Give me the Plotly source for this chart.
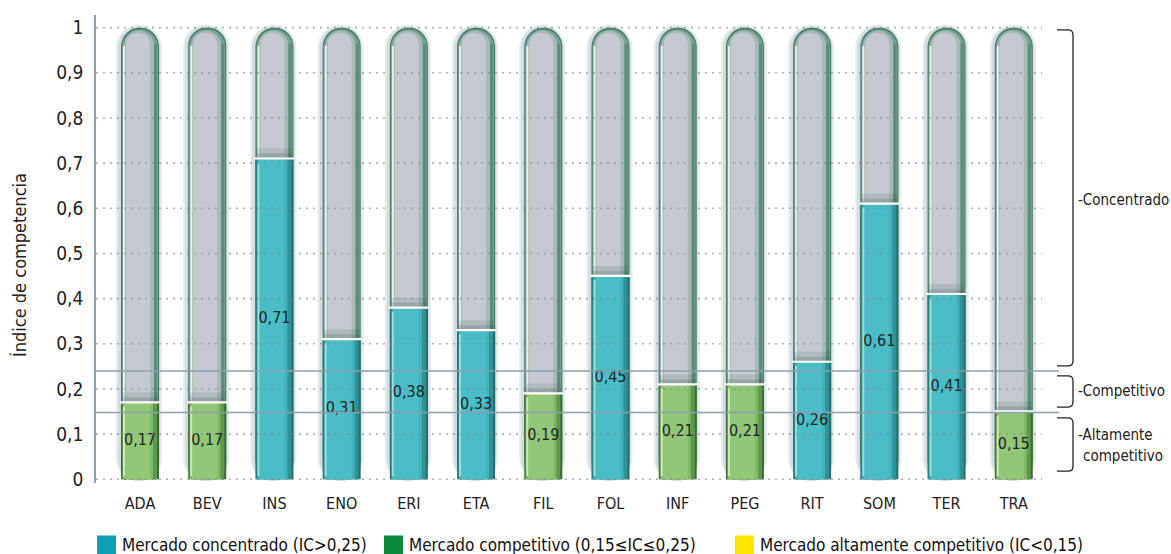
import plotly.graph_objects as go

# Market competition index per sector
sectors = ["ADA", "BEV", "INS", "ENO", "ERI", "ETA", "FIL", "FOL", "INF", "PEG", "RIT", "SOM", "TER", "TRA"]
index_values = [0.17, 0.17, 0.71, 0.31, 0.38, 0.33, 0.19, 0.45, 0.21, 0.21, 0.26, 0.61, 0.41, 0.15]

# Classification thresholds (IC) and the band separators drawn on the plot
ic_high = 0.25
ic_low = 0.15
band_lines = [0.24, 0.148]

y_ticks = [0, 0.1, 0.2, 0.3, 0.4, 0.5, 0.6, 0.7, 0.8, 0.9, 1.0]
y_ticktext = ["0", "0,1", "0,2", "0,3", "0,4", "0,5", "0,6", "0,7", "0,8", "0,9", "1"]

legend_labels = [
    "Mercado concentrado (IC>0,25)",
    "Mercado competitivo (0,15≤IC≤0,25)",
    "Mercado altamente competitivo (IC<0,15)",
]
legend_colors = ["#0d9fb4", "#0a8a3c", "#ffe600"]

bands = [
    ("Concentrado", 0.251, 0.995),
    ("Competitivo", 0.160, 0.229),
    ("Altamente competitivo", 0.018, 0.136),
]

FONT = "DejaVu Sans Condensed, Liberation Sans Narrow, Arial Narrow, sans-serif"

# Layout geometry (pixels)
W, H = 1171, 554
M_L, M_R, M_T, M_B = 96, 129, 15, 71
X_RANGE = [-0.655, 13.42]
Y_RANGE = [-0.0082, 1.028]
PW = W - M_L - M_R
PH = H - M_T - M_B
PX = PW / (X_RANGE[1] - X_RANGE[0])   # pixels per category
PY = PH / (Y_RANGE[1] - Y_RANGE[0])   # pixels per index unit


def px_y(p):
    return p / PY


def kind(v):
    if v > ic_high:
        return "teal"
    if v >= ic_low:
        return "green"
    return "yellow"


PALETTE = {
    "teal": ["#236f6a", "#2e9296", "#3fb3bc", "#4bbdc6", "#a2dbde"],
    "green": ["#3b6e33", "#5c9a4a", "#80bb66", "#91c776", "#cde7bb"],
    "yellow": ["#8a7a10", "#c9b51a", "#efdc3a", "#f6e651", "#fbf3a8"],
}

fig = go.Figure()


def layer(base, top, left_px, right_px, color, radius=None, opacity=1.0):
    """Bar layer spanning [left_px, right_px] measured from the left edge of a 38px column."""
    width_px = right_px - left_px
    if not isinstance(base, list):
        base = [base] * len(sectors)
    if not isinstance(top, list):
        top = [top] * len(sectors)
    heights = [t - b for t, b in zip(top, base)]
    marker = dict(color=color, line=dict(width=0), opacity=opacity)
    if radius:
        marker["cornerradius"] = radius
    fig.add_trace(go.Bar(
        x=sectors, y=heights, base=base,
        width=width_px / PX, offset=(left_px - 19) / PX,
        marker=marker, showlegend=False, hoverinfo="skip",
    ))


# Grey tube behind each value (full scale to 1)
layer(-0.004, 1 + px_y(3), -5, 41, "#e6ebef", radius="50%")
layer(-0.004, 1 + px_y(1.5), -3, 39, "#d3dbe1", radius="50%")
layer(0, 1.0, 0, 38, "#3f7a64", radius="50%")
layer(0, 1 - px_y(1.5), 1, 37, "#78a292", radius="50%")
layer(0, 1 - px_y(3), 3, 33, "#a9b9b5", radius="50%")
layer(0, 1 - px_y(5), 5, 29, "#c5c9d1", radius="50%")
layer(0, 1 - px_y(18), 2, 4, "#e9efec", radius="50%")
layer(0, 1 - px_y(16), 33, 36, "#5a8c78")

# Darker shading of the tube just above each value
layer([v for v in index_values], [v + px_y(10) for v in index_values], 1, 37, "rgba(40,85,65,0.13)")
layer([v for v in index_values], [v + px_y(5) for v in index_values], 1, 37, "rgba(40,85,65,0.18)")

# Coloured value bars
kinds = [kind(v) for v in index_values]
for i, (l, r) in enumerate([(0, 38), (1, 36), (2, 32), (4, 29)]):
    layer(0, index_values, l, r, [PALETTE[k][i] for k in kinds])
layer(px_y(3), [v - px_y(4) for v in index_values], 2, 4, [PALETTE[k][4] for k in kinds])

# White rim at the top of each value bar
layer([v - px_y(1) for v in index_values], [v + px_y(1.2) for v in index_values], -1, 39, "#ffffff")

# Value labels
fig.add_trace(go.Scatter(
    x=sectors, y=[v / 2 for v in index_values], mode="text",
    text=[f"{v:.2f}".replace(".", ",") for v in index_values],
    textfont=dict(family=FONT, size=16, color="#1b2626"),
    showlegend=False, hoverinfo="skip",
))

shapes = []
# Dotted gridlines drawn over the tubes
for t in y_ticks:
    shapes.append(dict(type="line", xref="paper", yref="y", x0=0, x1=1, y0=t, y1=t,
                       line=dict(color="rgba(125,135,145,0.65)", width=1.6, dash="2px,5px"),
                       layer="above"))
# Band separators
for b in band_lines:
    shapes.append(dict(type="line", xref="paper", yref="y", x0=0, x1=1.018, y0=b, y1=b,
                       line=dict(color="#8aa0ab", width=1.5), layer="above"))

# Right-hand braces for each band
xs0 = (1057 - M_L) / PW
xs1 = (1073 - M_L) / PW
rx = 5 / PW
ry = px_y(5)
annotations = []
for name, lo, hi in bands:
    path = (f"M {xs0},{hi} L {xs1 - rx},{hi} Q {xs1},{hi} {xs1},{hi - ry} "
            f"L {xs1},{lo + ry} Q {xs1},{lo} {xs1 - rx},{lo} L {xs0},{lo}")
    shapes.append(dict(type="path", xref="paper", yref="y", path=path,
                       line=dict(color="#222222", width=1.3)))

ann_x = (1076 - M_L) / PW
ann_font = dict(family=FONT, size=15, color="#222222")
annotations.append(dict(xref="paper", yref="y", x=ann_x, y=(bands[0][1] + bands[0][2]) / 2 - 0.005,
                        text="-Concentrado", showarrow=False, xanchor="left", yanchor="middle", font=ann_font))
annotations.append(dict(xref="paper", yref="y", x=ann_x, y=(bands[1][1] + bands[1][2]) / 2,
                        text="-Competitivo", showarrow=False, xanchor="left", yanchor="middle", font=ann_font))
annotations.append(dict(xref="paper", yref="y", x=ann_x, y=(bands[2][1] + bands[2][2]) / 2 + px_y(10),
                        text="-Altamente", showarrow=False, xanchor="left", yanchor="middle", font=ann_font))
annotations.append(dict(xref="paper", yref="y", x=ann_x + 5 / PW, y=(bands[2][1] + bands[2][2]) / 2 - px_y(11),
                        text="competitivo", showarrow=False, xanchor="left", yanchor="middle", font=ann_font))

# Y axis title
annotations.append(dict(xref="paper", yref="paper", x=(19 - M_L) / PW, y=(H - M_B - 265) / PH,
                        text="Índice de competencia", textangle=-90, showarrow=False,
                        xanchor="center", yanchor="middle",
                        font=dict(family=FONT, size=18, color="#222222")))

# Legend drawn as swatches with labels
leg_y = (H - M_B - 545) / PH
sw_h = 19 / PH
legend_x = [97, 384, 735]
for lab, col, lx in zip(legend_labels, legend_colors, legend_x):
    x0 = (lx - M_L) / PW
    x1 = (lx + 19 - M_L) / PW
    shapes.append(dict(type="rect", xref="paper", yref="paper", x0=x0, x1=x1,
                       y0=leg_y - sw_h / 2, y1=leg_y + sw_h / 2,
                       fillcolor=col, line=dict(width=0)))
    annotations.append(dict(xref="paper", yref="paper", x=(lx + 23 - M_L) / PW, y=leg_y,
                            text=lab, showarrow=False, xanchor="left", yanchor="middle",
                            font=dict(family=FONT, size=17, color="#111111")))

fig.update_layout(
    width=W, height=H,
    margin=dict(l=M_L, r=M_R, t=M_T, b=M_B),
    paper_bgcolor="white", plot_bgcolor="white",
    barmode="overlay",
    showlegend=False,
    shapes=shapes, annotations=annotations,
    xaxis=dict(type="category", range=X_RANGE, showgrid=False, zeroline=False,
               showline=False, ticks="", ticklabelstandoff=9,
               tickfont=dict(family=FONT, size=16, color="#222222"), fixedrange=True),
    yaxis=dict(range=Y_RANGE, tickvals=y_ticks, ticktext=y_ticktext, showgrid=False,
               zeroline=False, showline=True, linecolor="#8aa0ab", linewidth=1.5,
               ticks="", ticklabelstandoff=7,
               tickfont=dict(family=FONT, size=19, color="#222222"), fixedrange=True),
)

fig.write_html("out.html")
